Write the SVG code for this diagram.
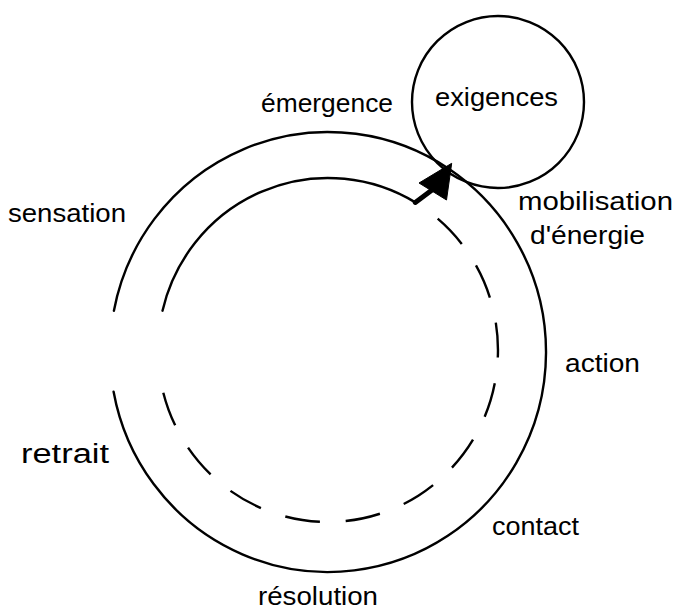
<svg xmlns="http://www.w3.org/2000/svg" width="677" height="612" viewBox="0 0 677 612">
<style>
.ln{fill:none;stroke:#000;stroke-width:2.4;stroke-linecap:round}
.dash{stroke-dasharray:35 25.8;stroke-linecap:butt}
.t{font-family:"Liberation Sans",Arial,sans-serif;font-size:26px;fill:#000}
</style>
<rect width="677" height="612" fill="#fff"/>
<g id="connectors">
<path id="outer-cycle" class="ln" d="M 113.9 310.7 A 218 220 0 1 1 113.6 391.7"/>
<path id="inner-solid" class="ln" d="M 162.5 310.7 A 170 172 0 0 1 415.3 202.4"/>
<path id="inner-dashed" class="ln dash" d="M 437.7 218.6 A 170 172 0 1 1 163.3 392.7"/>
<line id="arrow-shaft" x1="415.3" y1="202.4" x2="436" y2="187" stroke="#000" stroke-width="5" stroke-linecap="round"/>
<polygon id="arrow-head" points="451.7,163.3 419,183 446.5,200" fill="#000" stroke="#000" stroke-width="1" stroke-linejoin="round"/>
</g>
<g id="node-exigences">
<circle cx="498" cy="102" r="86" class="ln"/>
<text class="t" x="435" y="106" textLength="123" lengthAdjust="spacingAndGlyphs">exigences</text>
</g>
<g id="label-emergence"><text class="t" x="261" y="112" textLength="132" lengthAdjust="spacingAndGlyphs">émergence</text></g>
<g id="label-sensation"><text class="t" x="8" y="222" textLength="118" lengthAdjust="spacingAndGlyphs">sensation</text></g>
<g id="label-mobilisation">
<text class="t" x="518" y="210" textLength="155" lengthAdjust="spacingAndGlyphs">mobilisation</text>
<text class="t" x="530" y="244" textLength="115" lengthAdjust="spacingAndGlyphs">d'énergie</text>
</g>
<g id="label-action"><text class="t" x="565" y="372" textLength="75" lengthAdjust="spacingAndGlyphs">action</text></g>
<g id="label-retrait"><text class="t" x="21" y="463" style="font-size:27px" textLength="88" lengthAdjust="spacingAndGlyphs">retrait</text></g>
<g id="label-contact"><text class="t" x="492" y="535" textLength="87" lengthAdjust="spacingAndGlyphs">contact</text></g>
<g id="label-resolution"><text class="t" x="258" y="605" textLength="120" lengthAdjust="spacingAndGlyphs">résolution</text></g>
</svg>
